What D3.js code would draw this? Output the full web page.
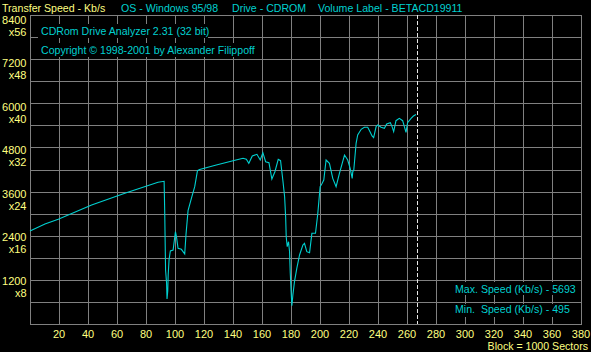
<!DOCTYPE html>
<html><head><meta charset="utf-8">
<script src="https://cdn.jsdelivr.net/npm/d3@7"></script>
<style>
html,body{margin:0;padding:0;background:#000;}
svg{display:block;}
text{font-family:"Liberation Sans",Arial,sans-serif;font-size:10.6px;}
text.num{font-size:11px;}
</style></head>
<body>
<svg id="chart" width="591" height="352"></svg>
<script>
// ---- data ----
const blocks = [0,10.3,19.5,42.5,65.4,88.3,92.5,92.9,93.5,94.2,94.5,95.0,95.3,95.9,96.8,98.7,100.3,101,102.1,104.4,106.7,107.6,109,111.3,113.6,115.5,117,128.5,140,146.9,149.2,150.9,153.3,156.5,158.8,160.6,162.5,164.8,166.8,168.9,171.2,172.8,174.4,175.6,176.3,176.7,177.4,178.3,179,179.5,180.2,180.6,181.3,182.4,184,185.9,188.2,189.3,190.9,192.8,194.4,196.9,198.5,200.1,201.5,202.6,204.2,206.5,208.8,211.1,213.4,216.9,219.1,220.8,222.2,222.6,223.3,224.9,226,228.4,230.6,232.9,234.5,235.9,237,238.7,239.8,242.1,244.4,246,248.5,249.7,250.8,252.4,254.7,257,259.3,260.4,262.8,264.4,266.2];
const speeds = [2530,2718,2846,3235,3553,3852,3879,3072,1468,1100,680,900,1330,1750,1984,2011,2509,2373,2058,2030,1903,2438,3081,3416,3733,4168,4200,4322,4440,4504,4477,4368,4567,4613,4458,4657,4412,4385,3942,4140,4477,4440,3900,3460,2917,2373,2101,2237,1966,1378,788,495,788,1150,1514,1876,2148,2194,1966,1938,2465,2465,3009,3733,3824,3915,4458,4368,3960,3733,4096,4594,4458,4232,3960,4140,4186,4912,5138,5292,5347,5347,5228,5111,5065,5365,5410,5347,5320,5437,5473,5365,5228,5527,5591,5527,5210,5473,5591,5654,5693];
const xTicks = [20,40,60,80,100,120,140,160,180,200,220,240,260,280,300,320,340,360,380];
const yTicks = [1200,2400,3600,4800,6000,7200,8400];
const yTickX = ["x8","x16","x24","x32","x40","x48","x56"];
const headerTexts = ["Transfer Speed - Kb/s","OS - Windows 95/98","Drive - CDROM","Volume Label - BETACD19911"];
const infoTexts = ["CDRom Drive Analyzer 2.31 (32 bit)","Copyright \u00A9 1998-2001 by Alexander Filippoff"];
const maxSpeed = 5693, minSpeed = 495, endBlock = 267;
const xUnitLabel = "Block = 1000 Sectors";

// ---- layout ----
const YEL = "#ffff80", CYA = "#00d0d0", GRID = "#808080";
const svg = d3.select("#chart");
svg.append("rect").attr("width",591).attr("height",352).attr("fill","#000");
const x = d3.scaleLinear().domain([0,380]).range([30,581]);
const y = d3.scaleLinear().domain([0,8400]).range([324,15]);
const labelY = d3.scaleLinear().domain([1200,8400]).range([280.5,20]);
const px = v => Math.round(v)+0.5;

const g = svg.append("g");
// grid
d3.range(0,8401,600).forEach(v=>{
  g.append("line").attr("x1",30).attr("x2",581.5).attr("y1",px(y(v))).attr("y2",px(y(v)))
   .attr("stroke",GRID).attr("shape-rendering","crispEdges");
});
[0].concat(xTicks).forEach(v=>{
  g.append("line").attr("x1",px(x(v))).attr("x2",px(x(v))).attr("y1",15).attr("y2",324.5)
   .attr("stroke",GRID).attr("shape-rendering","crispEdges");
});

// info boxes
function boxText(t, x0, base, w){
  g.append("rect").attr("x",x0-3).attr("y",base-11).attr("width",w).attr("height",14).attr("fill","#000");
  g.append("text").attr("x",x0).attr("y",base).attr("fill",CYA).text(t);
}
boxText(infoTexts[0],41,35,170);
boxText(infoTexts[1],41,54,214);

// dashed end line
g.append("line").attr("x1",px(x(endBlock))).attr("x2",px(x(endBlock))).attr("y1",15).attr("y2",324)
  .attr("stroke","#e8e8e8").attr("stroke-dasharray","4,2").attr("shape-rendering","crispEdges");

// data line
const pts = blocks.map((b,i)=>[b,speeds[i]]);
g.append("path").datum(pts)
  .attr("d",d3.line().x(d=>x(d[0])).y(d=>y(d[1])))
  .attr("fill","none").attr("stroke",CYA).attr("stroke-width",1.1);

// legend
g.append("rect").attr("x",452).attr("y",282).attr("width",127).attr("height",13).attr("fill","#000");
g.append("text").attr("x",455).attr("y",293).attr("fill",CYA).text("Max. Speed (Kb/s) - "+maxSpeed);
g.append("rect").attr("x",452).attr("y",304).attr("width",127).attr("height",13).attr("fill","#000");
g.append("text").attr("x",455).attr("y",313).attr("fill",CYA).attr("xml:space","preserve").text("Min.  Speed (Kb/s) - "+minSpeed);

// header
const hx = [2,121,232,318];
headerTexts.forEach((t,i)=>{
  svg.append("text").attr("x",hx[i]).attr("y",12).attr("fill",i===0?YEL:CYA).text(t);
});

// y axis labels
yTicks.forEach((v,i)=>{
  const c = labelY(v);
  svg.append("text").attr("class","num").attr("x",26.5).attr("y",c+4).attr("text-anchor","end").attr("fill",YEL).text(v);
  svg.append("text").attr("class","num").attr("x",26.5).attr("y",c+16).attr("text-anchor","end").attr("fill",YEL).text(yTickX[i]);
});
// x axis labels
xTicks.forEach(v=>{
  svg.append("text").attr("class","num").attr("x",x(v)).attr("y",337.5).attr("text-anchor","middle").attr("fill",YEL).text(v);
});
svg.append("text").attr("x",588).attr("y",349.5).attr("text-anchor","end").attr("fill",YEL).text(xUnitLabel);
</script>
</body></html>
